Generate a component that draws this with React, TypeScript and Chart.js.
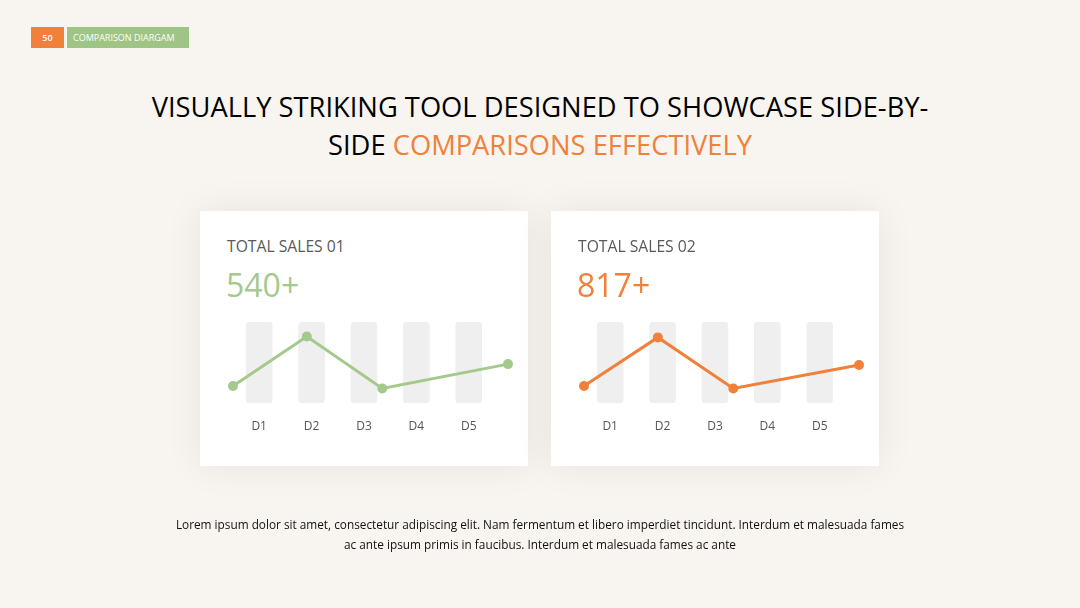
import React, { useEffect, useRef } from "react";
import { Chart, registerables } from "chart.js";

Chart.register(...registerables);

const categories = ["D1", "D2", "D3", "D4", "D5"];
const trackValues = [100, 100, 100, 100, 100];
const lineX = [-0.5, 0.91, 2.35, 4.75];
const sales01 = [21, 82, 18, 48];
const sales02 = [21, 81, 18, 47];

const GREEN = "#a4c98c";
const ORANGE = "#f0803a";
const FONT = "'Open Sans', sans-serif";

function MiniChart({ values, color }: { values: number[]; color: string }) {
  const ref = useRef<HTMLCanvasElement | null>(null);
  useEffect(() => {
    if (!ref.current) return;
    const chart = new Chart(ref.current, {
      type: "bar",
      data: {
        datasets: [
          {
            type: "line",
            data: values.map((v, i) => ({ x: lineX[i], y: v })),
            borderColor: color,
            backgroundColor: color,
            borderWidth: 3,
            pointRadius: 5,
            pointBackgroundColor: color,
            pointBorderWidth: 0,
            tension: 0,
            clip: false,
            order: 0,
          } as any,
          {
            type: "bar",
            data: trackValues.map((v, i) => ({ x: i, y: v })),
            backgroundColor: "#efefef",
            barThickness: 26,
            borderRadius: 4,
            borderSkipped: false,
            order: 1,
          } as any,
        ],
      },
      options: {
        animation: false,
        responsive: true,
        maintainAspectRatio: false,
        layout: { padding: { left: 23, right: 12, top: 12, bottom: 0.6 } },
        plugins: { legend: { display: false }, tooltip: { enabled: false } },
        scales: {
          x: {
            type: "linear",
            offset: false,
            min: -0.5,
            max: 4.75,
            grid: { display: false, drawTicks: false, offset: false },
            border: { display: false },
            afterBuildTicks: (scale: any) => {
              scale.ticks = categories.map((_, i) => ({ value: i }));
            },
            ticks: {
              padding: 16,
              maxRotation: 0,
              minRotation: 0,
              autoSkip: false,
              color: "#555555",
              font: { family: FONT, size: 12 },
              callback: (v: any) => categories[Number(v)] ?? "",
            },
          },
          y: {
            display: false,
            min: 0,
            max: 100,
          },
        },
      },
    });
    return () => chart.destroy();
  }, [values, color]);
  return (
    <div style={{ position: "absolute", left: 10, top: 99, width: 310, height: 140 }}>
      <canvas ref={ref} />
    </div>
  );
}

function Card({ left, title, value, color, values }: any) {
  return (
    <div
      style={{
        position: "absolute",
        left,
        top: 211,
        width: 328,
        height: 255,
        background: "#ffffff",
        boxShadow: "0 0 36px rgba(0,0,0,0.07)",
      }}
    >
      <div
        style={{
          position: "absolute",
          left: 27,
          top: 24,
          fontSize: 15.7,
          color: "#595959",
          whiteSpace: "nowrap",
          lineHeight: "22px",
        }}
      >
        {title}
      </div>
      <div
        style={{
          position: "absolute",
          left: 26,
          top: 52,
          fontSize: 32,
          color,
          fontWeight: 500,
          whiteSpace: "nowrap",
          lineHeight: "44px",
        }}
      >
        {value}
      </div>
      <MiniChart values={values} color={color} />
    </div>
  );
}

export default function App() {
  return (
    <div
      style={{
        position: "fixed",
        left: 0,
        top: 0,
        width: 1080,
        height: 608,
        background: "#f8f5f1",
        fontFamily: FONT,
        overflow: "hidden",
      }}
    >
      <div
        style={{
          position: "absolute",
          left: 31,
          top: 27,
          width: 33,
          height: 21,
          background: ORANGE,
          color: "#fff",
          fontSize: 9,
          fontWeight: 600,
          lineHeight: "21px",
          textAlign: "center",
        }}
      >
        50
      </div>
      <div
        style={{
          position: "absolute",
          left: 67,
          top: 27,
          width: 122,
          height: 21,
          background: "#9ec486",
          color: "#fff",
          fontSize: 9,
          lineHeight: "21px",
          paddingLeft: 6,
          boxSizing: "border-box",
          whiteSpace: "nowrap",
        }}
      >
        COMPARISON DIARGAM
      </div>
      <div
        style={{
          position: "absolute",
          left: 0,
          top: 88,
          width: 1080,
          textAlign: "center",
          fontSize: 27.3,
          lineHeight: "38px",
          color: "#000",
        }}
      >
        VISUALLY STRIKING TOOL DESIGNED TO SHOWCASE SIDE-BY-
        <br />
        SIDE <span style={{ color: ORANGE }}>COMPARISONS EFFECTIVELY</span>
      </div>
      <Card left={200} title="TOTAL SALES 01" value="540+" color={GREEN} values={sales01} />
      <Card left={551} title="TOTAL SALES 02" value="817+" color={ORANGE} values={sales02} />
      <div
        style={{
          position: "absolute",
          left: 0,
          top: 514,
          width: 1080,
          textAlign: "center",
          fontSize: 11.8,
          lineHeight: "20px",
          color: "#111",
        }}
      >
        Lorem ipsum dolor sit amet, consectetur adipiscing elit. Nam fermentum et libero imperdiet tincidunt. Interdum et malesuada fames
        <br />
        ac ante ipsum primis in faucibus. Interdum et malesuada fames ac ante
      </div>
    </div>
  );
}
